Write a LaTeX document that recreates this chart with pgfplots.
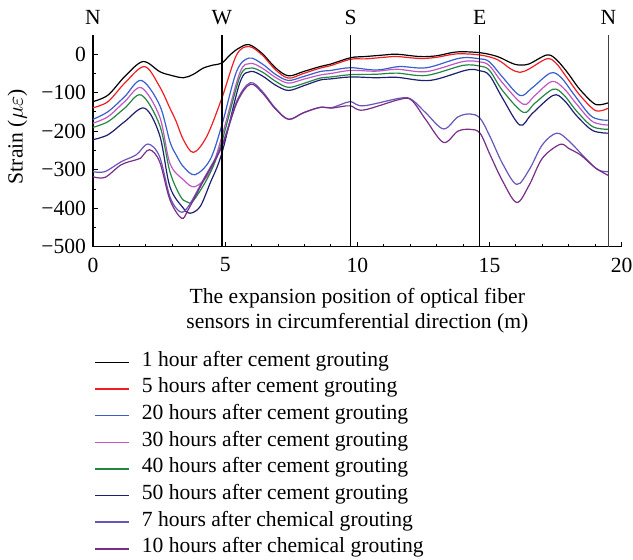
\documentclass[border=0pt]{standalone}
\usepackage{pgfplots}
\pgfplotsset{compat=1.18}
\usepackage{fontspec}
\setmainfont{Liberation Serif}
\definecolor{cRed}{RGB}{240,30,35}
\definecolor{cBlue}{RGB}{55,95,205}
\definecolor{cMag}{RGB}{195,85,195}
\definecolor{cGreen}{RGB}{35,135,65}
\definecolor{cNavy}{RGB}{30,30,115}
\definecolor{cSeven}{RGB}{105,85,185}
\definecolor{cTen}{RGB}{120,45,135}
\begin{document}
\begin{tikzpicture}
\begin{axis}[
  name=ax,
  scale only axis,
  width=264.4pt, height=105.9pt,
  font=\fontsize{10.8}{12.5}\selectfont,
  xmin=0, xmax=20, ymin=-500, ymax=50,
  axis x line=bottom, axis y line=left,
  axis line style={-, line width=0.6pt},
  xtick={0,5,10,15,20},
  xticklabels={0,5,10,15,20},
  ytick={-500,-400,-300,-200,-100,0},
  yticklabels={−500,−400,−300,−200,−100,0},
  xticklabel style={yshift=-2pt},
  minor x tick num=4, minor y tick num=1,
  tick align=inside,
  major tick length=2.5pt, minor tick length=1.5pt,
  tick style={black, line width=0.5pt},
  xlabel={The expansion position of optical fiber\\sensors in circumferential direction (m)},
  xlabel style={align=center, font=\fontsize{10.8}{12.3}\selectfont,
    at={(axis description cs:0.5,0)}, anchor=north, yshift=-17.3pt},
  ylabel={Strain ($\mu\varepsilon$)},
  ylabel style={at={(axis description cs:-0.1428,0.52)}, anchor=center},
  clip=false,
  every axis plot/.append style={line width=0.6pt, smooth, tension=0.55, no marks},
  legend style={at={(axis description cs:0.002,-0.4806)}, anchor=north west,
    draw=none, fill=none, inner sep=0pt, row sep=0pt,
    font=\fontsize{10.8}{12.5}\selectfont,
    nodes={inner sep=0pt, text height=8.6pt, text depth=4.73pt},
    /tikz/every odd column/.append style={column sep=6pt}},
  legend cell align=left,
  legend image code/.code={\draw[#1, line width=0.7pt] (0pt,0pt) -- (17pt,0pt);},
]
% 1 hour
\addplot[black] coordinates {(0,-123) (0.57,-106) (1.2,-58) (1.89,-19) (2.52,-45) (2.91,-54) (3.42,-61) (3.8,-52) (4.17,-36) (4.55,-28) (4.875,-23) (5.18,-2) (5.5,15) (5.9,25) (6.4,2) (6.9,-35) (7.39,-56) (7.96,-45) (8.59,-32) (8.97,-26) (9.75,-9) (10.3,-6) (11.0,-2) (11.5,0) (12.37,-6) (13.0,-4) (13.76,6) (14.64,4) (15.3,-6) (15.8,-22) (16.1,-28) (16.5,-25) (17.16,-2) (17.5,-12) (17.92,-45) (18.4,-90) (18.93,-127) (19.2,-131) (19.5,-126)};
\addlegendentry{1 hour after cement grouting}
% 5 hours
\addplot[cRed] coordinates {(0,-139) (0.57,-123) (1.2,-75) (1.95,-32) (2.52,-84) (2.91,-140) (3.15,-175) (3.42,-222) (3.8,-255) (4.3,-214) (4.875,-114) (5.43,-2) (5.9,20) (6.4,-2) (6.9,-40) (7.39,-62) (7.96,-50) (8.59,-36) (8.97,-30) (9.75,-13) (10.3,-12) (11.0,-8) (11.5,-6) (12.37,-11) (13.0,-8) (13.76,1) (14.64,-2) (15.3,-14) (15.8,-38) (16.15,-47) (16.5,-38) (17.16,-12) (17.5,-22) (17.92,-60) (18.4,-105) (18.93,-143) (19.2,-147) (19.5,-140)};
\addlegendentry{5 hours after cement grouting}
% 20 hours
\addplot[cBlue] coordinates {(0,-169) (0.57,-149) (1.2,-110) (1.83,-68) (2.52,-132) (2.91,-227) (3.15,-262) (3.42,-292) (3.86,-313) (4.43,-274) (4.875,-184) (5.43,-45) (5.9,-10) (6.4,-25) (6.9,-52) (7.39,-68) (7.96,-58) (8.59,-45) (9.0,-42) (9.75,-35) (10.73,-41) (11.6,-32) (12.62,-35) (13.89,-10) (14.64,-12) (15.0,-20) (15.5,-60) (16.15,-107) (16.6,-88) (17.3,-49) (17.7,-60) (18.2,-105) (18.8,-158) (19.2,-170) (19.5,-171)};
\addlegendentry{20 hours after cement grouting}
% 30 hours
\addplot[cMag] coordinates {(0,-179) (0.57,-162) (1.2,-123) (1.83,-87) (2.52,-162) (2.91,-283) (3.42,-326) (3.86,-344) (4.43,-305) (4.875,-214) (5.55,-49) (5.95,-24) (6.4,-36) (6.9,-60) (7.39,-75) (7.96,-65) (8.59,-54) (9.0,-50) (9.75,-42) (10.7,-44) (11.5,-39) (12.62,-45) (14.0,-19) (14.64,-20) (15.0,-30) (15.5,-75) (16.28,-130) (16.7,-108) (17.35,-71) (17.8,-88) (18.3,-130) (18.9,-175) (19.5,-184)};
\addlegendentry{30 hours after cement grouting}
% 40 hours
\addplot[cGreen] coordinates {(0,-190) (0.57,-175) (1.2,-140) (1.83,-106) (2.52,-184) (2.91,-305) (3.3,-368) (3.54,-383) (3.8,-380) (4.43,-309) (4.875,-227) (5.55,-60) (5.95,-36) (6.4,-46) (6.9,-70) (7.39,-86) (7.96,-76) (8.59,-62) (9.0,-59) (9.75,-53) (10.7,-52) (11.5,-49) (12.62,-55) (14.0,-29) (14.64,-31) (15.0,-42) (15.5,-95) (16.28,-151) (16.7,-128) (17.4,-91) (17.8,-105) (18.3,-148) (18.9,-188) (19.5,-195)};
\addlegendentry{40 hours after cement grouting}
% 50 hours
\addplot[cNavy] coordinates {(0,-222) (0.57,-209) (1.2,-175) (1.95,-140) (2.52,-210) (2.91,-344) (3.42,-400) (3.67,-413) (4.05,-396) (4.43,-335) (4.875,-257) (5.55,-75) (5.95,-45) (6.4,-56) (6.9,-80) (7.39,-94) (7.96,-82) (8.59,-67) (9.0,-64) (9.75,-59) (10.7,-61) (11.5,-60) (12.75,-68) (14.14,-41) (14.64,-43) (15.0,-55) (15.5,-115) (16.15,-184) (16.6,-155) (17.4,-107) (17.8,-118) (18.3,-160) (18.9,-198) (19.5,-205)};
\addlegendentry{50 hours after cement grouting}
% 7 hours chemical
\addplot[cSeven] coordinates {(0,-305) (0.45,-305) (1.07,-279) (1.64,-261) (2.08,-233) (2.52,-266) (2.91,-370) (3.29,-409) (3.6,-396) (4.17,-326) (4.875,-236) (5.45,-120) (5.95,-74) (6.4,-96) (6.9,-140) (7.4,-169) (7.96,-152) (8.59,-138) (9.0,-139) (9.4,-130) (9.75,-123) (10.23,-134) (11.62,-114) (12.06,-118) (12.6,-153) (13.26,-194) (13.8,-163) (14.26,-155) (14.64,-166) (15.02,-214) (15.5,-285) (16.03,-338) (16.5,-300) (17.0,-235) (17.54,-205) (18.0,-225) (18.6,-268) (19.1,-300) (19.5,-305)};
\addlegendentry{7 hours after chemical grouting}
% 10 hours chemical
\addplot[cTen] coordinates {(0,-318) (0.45,-320) (1.07,-287) (1.64,-274) (1.8,-270) (2.14,-248) (2.52,-279) (2.91,-378) (3.35,-426) (3.6,-404) (4.17,-330) (4.875,-240) (5.45,-125) (5.95,-78) (6.4,-100) (6.9,-142) (7.4,-169) (7.96,-152) (8.59,-138) (9.0,-140) (9.4,-136) (9.75,-134) (10.23,-145) (11.62,-117) (12.06,-120) (12.6,-171) (13.26,-229) (13.8,-200) (14.26,-195) (14.64,-205) (15.02,-261) (15.5,-330) (16.03,-385) (16.5,-340) (17.0,-270) (17.67,-234) (18.0,-245) (18.45,-262) (19.0,-295) (19.5,-315)};
\addlegendentry{10 hours after chemical grouting}
% direction lines
\addplot[black, line width=0.7pt, sharp plot, forget plot] coordinates {(4.875,-500) (4.875,50)};
\addplot[black, line width=0.7pt, sharp plot, forget plot] coordinates {(9.75,-500) (9.75,50)};
\addplot[black, line width=0.7pt, sharp plot, forget plot] coordinates {(14.625,-500) (14.625,50)};
\addplot[black!75, line width=0.9pt, sharp plot, forget plot] coordinates {(19.5,-500) (19.5,50)};
\node[anchor=base, inner sep=0pt, yshift=5pt] at (axis cs:0,50) {N};
\node[anchor=base, inner sep=0pt, yshift=5pt] at (axis cs:4.875,50) {W};
\node[anchor=base, inner sep=0pt, yshift=5pt] at (axis cs:9.75,50) {S};
\node[anchor=base, inner sep=0pt, yshift=5pt] at (axis cs:14.625,50) {E};
\node[anchor=base, inner sep=0pt, yshift=5pt] at (axis cs:19.5,50) {N};
\end{axis}
\path (ax.south west) ++(-46.5pt,-156.5pt) coordinate (bbA);
\path (ax.north east) ++(5.65pt,17.5pt) coordinate (bbB);
\pgfresetboundingbox
\useasboundingbox (bbA) rectangle (bbB);
\end{tikzpicture}
\end{document}
